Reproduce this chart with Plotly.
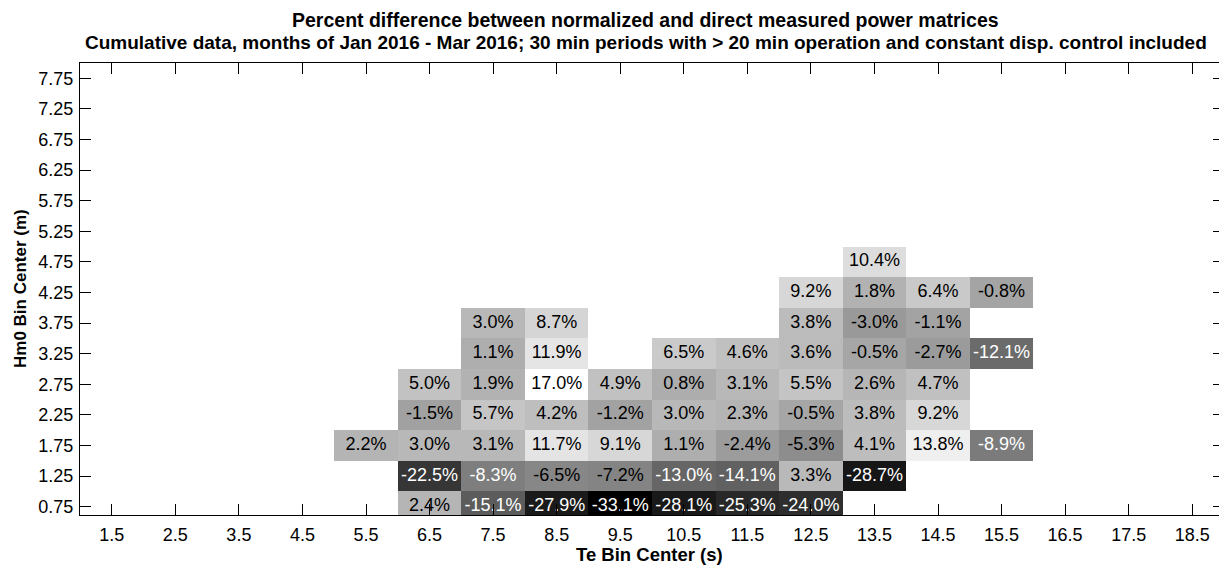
import plotly.graph_objects as go

# Bin centers
te_centers = [1.5, 2.5, 3.5, 4.5, 5.5, 6.5, 7.5, 8.5, 9.5, 10.5, 11.5, 12.5, 13.5, 14.5, 15.5, 16.5, 17.5, 18.5]
hm0_centers = [0.75, 1.25, 1.75, 2.25, 2.75, 3.25, 3.75, 4.25, 4.75, 5.25, 5.75, 6.25, 6.75, 7.25, 7.75]

N = None
# Percent difference per Hm0 row (columns follow te_centers)
row_0_75 = [N, N, N, N, N, 2.4, -15.1, -27.9, -33.1, -28.1, -25.3, -24.0, N, N, N, N, N, N]
row_1_25 = [N, N, N, N, N, -22.5, -8.3, -6.5, -7.2, -13.0, -14.1, 3.3, -28.7, N, N, N, N, N]
row_1_75 = [N, N, N, N, 2.2, 3.0, 3.1, 11.7, 9.1, 1.1, -2.4, -5.3, 4.1, 13.8, -8.9, N, N, N]
row_2_25 = [N, N, N, N, N, -1.5, 5.7, 4.2, -1.2, 3.0, 2.3, -0.5, 3.8, 9.2, N, N, N, N]
row_2_75 = [N, N, N, N, N, 5.0, 1.9, 17.0, 4.9, 0.8, 3.1, 5.5, 2.6, 4.7, N, N, N, N]
row_3_25 = [N, N, N, N, N, N, 1.1, 11.9, N, 6.5, 4.6, 3.6, -0.5, -2.7, -12.1, N, N, N]
row_3_75 = [N, N, N, N, N, N, 3.0, 8.7, N, N, N, 3.8, -3.0, -1.1, N, N, N, N]
row_4_25 = [N, N, N, N, N, N, N, N, N, N, N, 9.2, 1.8, 6.4, -0.8, N, N, N]
row_4_75 = [N, N, N, N, N, N, N, N, N, N, N, N, 10.4, N, N, N, N, N]
row_5_25 = [N, N, N, N, N, N, N, N, N, N, N, N, N, N, N, N, N, N]
row_5_75 = [N, N, N, N, N, N, N, N, N, N, N, N, N, N, N, N, N, N]
row_6_25 = [N, N, N, N, N, N, N, N, N, N, N, N, N, N, N, N, N, N]
row_6_75 = [N, N, N, N, N, N, N, N, N, N, N, N, N, N, N, N, N, N]
row_7_25 = [N, N, N, N, N, N, N, N, N, N, N, N, N, N, N, N, N, N]
row_7_75 = [N, N, N, N, N, N, N, N, N, N, N, N, N, N, N, N, N, N]

z = [row_0_75, row_1_25, row_1_75, row_2_25, row_2_75, row_3_25, row_3_75,
     row_4_25, row_4_75, row_5_25, row_5_75, row_6_25, row_6_75, row_7_25, row_7_75]

x_tick_labels = ["1.5", "2.5", "3.5", "4.5", "5.5", "6.5", "7.5", "8.5", "9.5", "10.5",
                 "11.5", "12.5", "13.5", "14.5", "15.5", "16.5", "17.5", "18.5"]
y_tick_labels = ["0.75", "1.25", "1.75", "2.25", "2.75", "3.25", "3.75", "4.25",
                 "4.75", "5.25", "5.75", "6.25", "6.75", "7.25", "7.75"]

vals = [v for r in z for v in r if v is not None]
zmin, zmax = min(vals), max(vals)

FONT = "Arial, Liberation Sans, Helvetica, sans-serif"

fig = go.Figure()
fig.add_trace(go.Heatmap(
    x=te_centers, y=hm0_centers, z=z,
    zmin=zmin, zmax=zmax,
    colorscale=[[0, "rgb(0,0,0)"], [1, "rgb(255,255,255)"]],
    showscale=False, hoverongaps=False,
))

tx, ty, tt, tc = [], [], [], []
for yi, r in zip(hm0_centers, z):
    for xi, v in zip(te_centers, r):
        if v is None:
            continue
        tx.append(xi)
        ty.append(yi)
        tt.append(f"{v:.1f}%")
        tc.append("white" if (v - zmin) / (zmax - zmin) < 0.5 else "black")

fig.add_trace(go.Scatter(
    x=tx, y=ty, text=tt, mode="text",
    textfont=dict(family=FONT, size=18, color=tc),
    hoverinfo="skip", showlegend=False,
))

axis_common = dict(
    showline=True, linecolor="black", linewidth=1, mirror="ticks",
    ticks="inside", ticklen=11, tickwidth=1, tickcolor="black",
    showgrid=False, zeroline=False,
    tickfont=dict(family=FONT, size=18, color="black"),
)

# page body has an 8px margin, so the figure is drawn 8px right and down
fig.update_layout(
    width=1219, height=557,
    margin=dict(l=72, r=3, t=55, b=50),
    paper_bgcolor="white", plot_bgcolor="white",
    showlegend=False,
    xaxis=dict(range=[1, 19], tickvals=te_centers, ticktext=x_tick_labels,
               ticklabelstandoff=3, **axis_common),
    yaxis=dict(range=[0.614, 8.0], tickvals=hm0_centers, ticktext=y_tick_labels,
               ticklabelstandoff=2, **axis_common),
    annotations=[
        dict(text="<b>Percent difference between normalized and direct measured power matrices</b>",
             xref="paper", yref="paper", x=0.5, y=1, xshift=-7, yshift=43, xanchor="center", yanchor="middle",
             showarrow=False, font=dict(family=FONT, size=19.5, color="black")),
        dict(text="<b>Cumulative data, months of Jan 2016 - Mar 2016; 30 min periods with > 20 min operation and constant disp. control included</b>",
             xref="paper", yref="paper", x=0.5, y=1, xshift=-6, yshift=21, xanchor="center", yanchor="middle",
             showarrow=False, font=dict(family=FONT, size=19, color="black")),
        dict(text="<b>Te Bin Center (s)</b>",
             xref="paper", yref="paper", x=0.5, y=0, xshift=-3, yshift=-39, xanchor="center", yanchor="middle",
             showarrow=False, font=dict(family=FONT, size=18.5, color="black")),
        dict(text="<b>Hm0 Bin Center (m)</b>",
             xref="paper", yref="paper", x=0, y=0.5, xshift=-60, xanchor="center", yanchor="middle",
             textangle=-90, showarrow=False, font=dict(family=FONT, size=17, color="black")),
    ],
)

fig.write_html("out.html")
